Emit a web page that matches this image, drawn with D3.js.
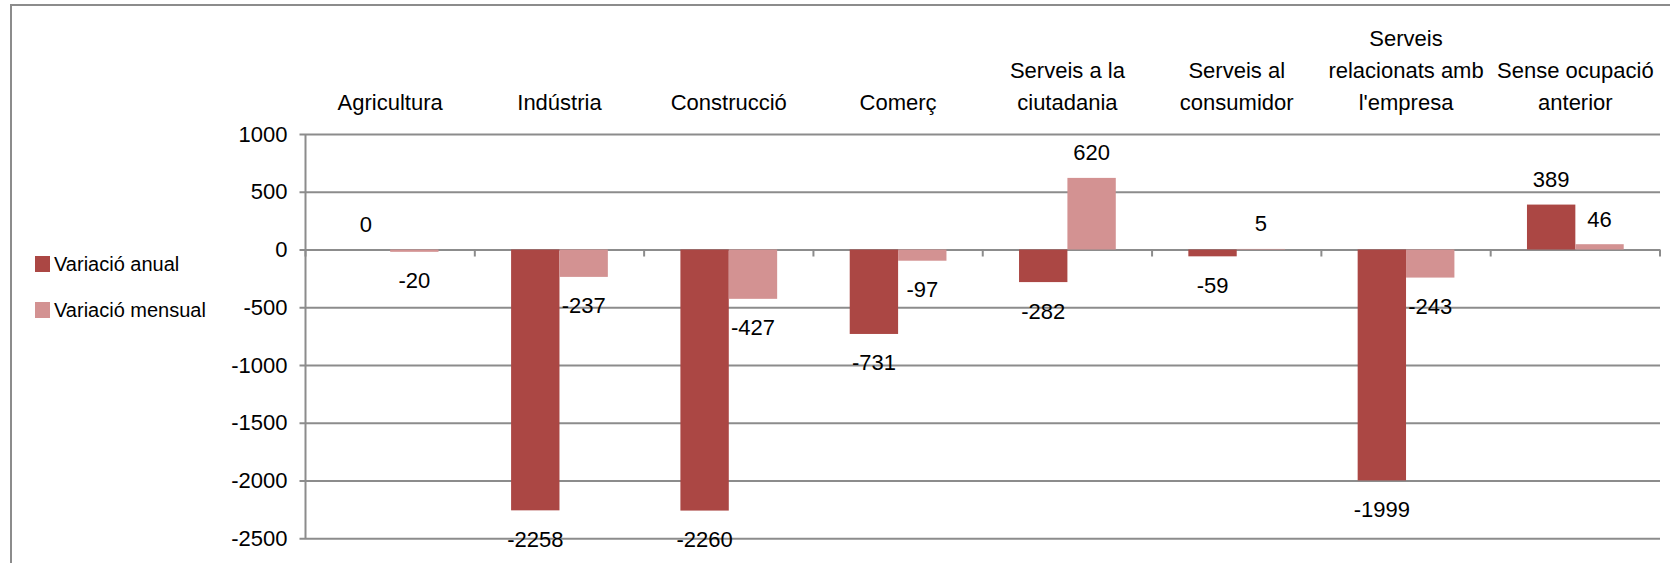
<!DOCTYPE html>
<html lang="ca">
<head>
    <meta charset="UTF-8">
    <title>Variació de l'atur per sectors</title>
    <script src="https://d3js.org/d3.v7.min.js"></script>
    <style>
        body { margin: 0; background: #fff; }
        text { font-family: "Liberation Sans", Arial, sans-serif; fill: #000; }
    </style>
</head>
<body>
<div id="chart"></div>
<script>
    // sectors (each entry = lines of the label)
    var categories = [
        ["Agricultura"],
        ["Indústria"],
        ["Construcció"],
        ["Comerç"],
        ["Serveis a la", "ciutadania"],
        ["Serveis al", "consumidor"],
        ["Serveis", "relacionats amb", "l'empresa"],
        ["Sense ocupació", "anterior"]
    ];
    var seriesNames = ["Variació anual", "Variació mensual"];
    var anual   = [0, -2258, -2260, -731, -282, -59, -1999, 389];
    var mensual = [-20, -237, -427, -97, 620, 5, -243, 46];
    var yTicks  = [1000, 500, 0, -500, -1000, -1500, -2000, -2500];
    var colors  = ["#ab4744", "#d39292"];

    var width = 1670, height = 563;
    var svg = d3.select("#chart").append("svg")
        .attr("width", width)
        .attr("height", height);

    // marc exterior
    svg.append("rect")
        .attr("x", 11).attr("y", 5)
        .attr("width", 1700).attr("height", 600)
        .attr("fill", "none")
        .attr("stroke", "#8c8c8c")
        .attr("stroke-width", 2);

    var plotLeft = 305.5, plotRight = 1660;

    var x0 = d3.scaleBand()
        .domain(d3.range(categories.length))
        .range([plotLeft, plotRight]);

    var bw = x0.bandwidth();
    var barW = bw / 3.5; // gap 150%
    var x1 = d3.scaleBand()
        .domain([0, 1])
        .range([barW * 0.75, bw - barW * 0.75]);

    var y = d3.scaleLinear()
        .domain([-2500, 1000])
        .range([538.3, 134]);

    // gridlines + y axis
    var yAxis = d3.axisLeft(y)
        .tickValues(yTicks)
        .tickSize(-(plotRight - plotLeft))
        .tickPadding(18)
        .tickFormat(function(d) { return String(d); }); // guió normal, no signe menys

    var gy = svg.append("g")
        .attr("transform", "translate(" + plotLeft + ",0)")
        .call(yAxis);
    gy.select(".domain").remove();
    gy.selectAll(".tick line")
        .attr("x1", -6)
        .attr("stroke", "#8c8c8c")
        .attr("stroke-width", 2);
    gy.selectAll(".tick text")
        .style("font-size", "22px")
        .attr("fill", "#000");

    // eix vertical
    svg.append("line")
        .attr("x1", plotLeft).attr("x2", plotLeft)
        .attr("y1", y(1000)).attr("y2", y(-2500))
        .attr("stroke", "#8c8c8c")
        .attr("stroke-width", 2);

    // marques de categoria sobre el zero
    var bounds = d3.range(categories.length + 1).map(function(i) {
        return i < categories.length ? x0(i) : plotRight;
    });
    svg.append("g").selectAll("line")
        .data(bounds)
        .enter().append("line")
        .attr("x1", function(d) { return d; })
        .attr("x2", function(d) { return d; })
        .attr("y1", y(0))
        .attr("y2", y(0) + 7)
        .attr("stroke", "#8c8c8c")
        .attr("stroke-width", 2);

    // barres
    var rows = categories.map(function(c, i) {
        return { i: i, vals: [anual[i], mensual[i]] };
    });

    var groups = svg.append("g").selectAll("g")
        .data(rows)
        .enter().append("g")
        .attr("transform", function(d) { return "translate(" + x0(d.i) + ",0)"; });

    groups.selectAll("rect")
        .data(function(d) { return d.vals.map(function(v, s) { return { s: s, v: v }; }); })
        .enter().append("rect")
        .attr("x", function(d) { return x1(d.s); })
        .attr("width", x1.bandwidth())
        .attr("y", function(d) { return y(Math.max(0, d.v)); })
        .attr("height", function(d) { return Math.abs(y(d.v) - y(0)); })
        .attr("fill", function(d) { return colors[d.s]; });

    // etiquetes de dades
    groups.selectAll("text.lbl")
        .data(function(d) { return d.vals.map(function(v, s) { return { s: s, v: v }; }); })
        .enter().append("text")
        .attr("class", "lbl")
        .attr("x", function(d) { return x1(d.s) + x1.bandwidth() / 2; })
        .attr("y", function(d) { return d.v >= 0 ? y(d.v) - 25 : y(d.v) + 29; })
        .attr("text-anchor", "middle")
        .attr("dominant-baseline", "central")
        .style("font-size", "22px")
        .text(function(d) { return String(d.v); });

    // etiquetes de categoria (a dalt)
    var catLabels = svg.append("g").selectAll("text")
        .data(categories)
        .enter().append("text")
        .attr("text-anchor", "middle")
        .style("font-size", "22px");
    catLabels.each(function(lines, i) {
        var t = d3.select(this);
        var cx = x0(i) + bw / 2;
        lines.forEach(function(line, k) {
            t.append("tspan")
                .attr("x", cx)
                .attr("y", 110 - (lines.length - 1 - k) * 32)
                .text(line);
        });
    });

    // llegenda
    var legend = svg.append("g").selectAll("g")
        .data(seriesNames)
        .enter().append("g")
        .attr("transform", function(d, i) { return "translate(35," + (256 + i * 46) + ")"; });
    legend.append("rect")
        .attr("width", 15).attr("height", 16)
        .attr("fill", function(d, i) { return colors[i]; });
    legend.append("text")
        .attr("x", 19).attr("y", 15)
        .style("font-size", "20px")
        .text(function(d) { return d; });
</script>
</body>
</html>
